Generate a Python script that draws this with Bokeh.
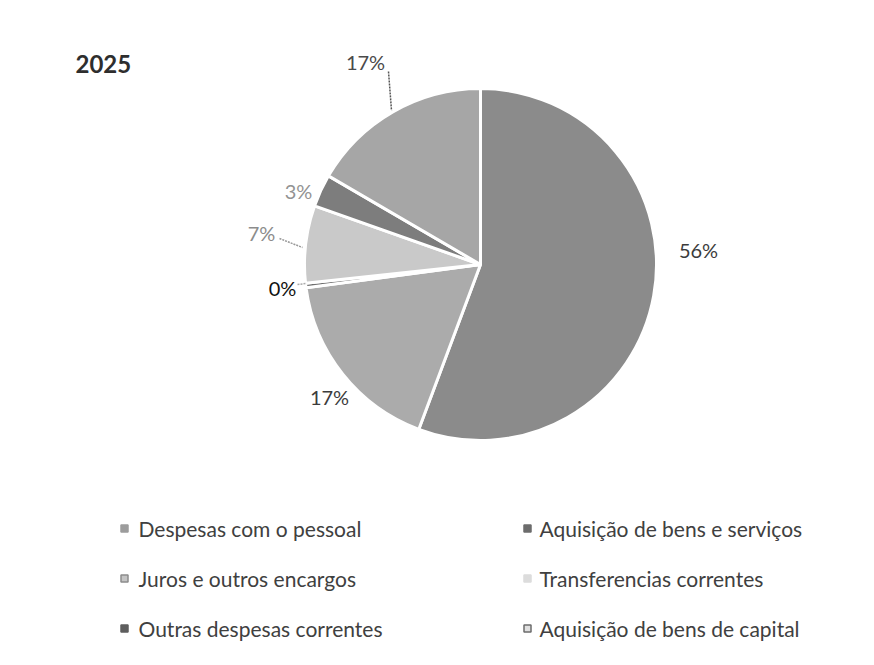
import math
from bokeh.plotting import figure
from bokeh.models import ColumnDataSource, Range1d
from bokeh.core.properties import value
from bokeh.embed import file_html
from bokeh.resources import INLINE

# ---- data ----
title = "2025"
categories = ["Despesas com o pessoal", "Aquisição de bens e serviços", "Juros e outros encargos",
              "Transferencias correntes", "Outras despesas correntes", "Aquisição de bens de capital"]
shares = [55.7, 17.2, 0.4, 7.1, 3.0, 16.6]
slice_colors = ["#8b8b8b", "#ababab", "#6e6e6e", "#c9c9c9", "#7d7d7d", "#a6a6a6"]
legend_fill = ["#9c9c9c", "#6c6c6c", "#c4c4c4", "#dcdcdc", "#5e5e5e", "#e0e0e0"]
legend_line = ["#9c9c9c", "#6c6c6c", "#8c8c8c", "#dcdcdc", "#5e5e5e", "#6c6c6c"]
label_colors = ["#3c3c3c", "#3c3c3c", "#111111", "#8c8c8c", "#939393", "#4a4a4a"]

W, H = 858, 649
p = figure(width=W, height=H, output_backend="svg", toolbar_location=None,
           x_range=Range1d(0, W), y_range=Range1d(0, H), min_border=0)
p.axis.visible = False
p.grid.visible = False
p.outline_line_color = None
p.background_fill_color = "white"


def Y(y_img):
    return H - y_img


FONT = "Lato"
cx, cy, R = 480, Y(264), 176

total = sum(shares)
starts, ends = [], []
cum = 0.0
for v in shares:
    starts.append(math.pi / 2 - 2 * math.pi * cum / total)
    cum += v
    ends.append(math.pi / 2 - 2 * math.pi * cum / total)

src = ColumnDataSource(dict(start=starts, end=ends, color=slice_colors))
p.wedge(x=cx, y=cy, radius=R, start_angle="start", end_angle="end", direction="clock",
        fill_color="color", line_color="white", line_width=3, source=src)

# data labels (layout positions)
label_pos = [(698, 249), (329, 396), (282, 287), (261, 232), (298, 190), (365, 61)]
labels = [f"{v:.0f}%" for v in shares]
p.text(x=[a for a, b in label_pos], y=[Y(b) for a, b in label_pos], text=labels,
       text_color=label_colors, text_font=value(FONT),
       text_font_size="20px", text_align="center", text_baseline="middle")

# leader lines
p.segment(x0=[388, 279, 297], y0=[Y(71), Y(238), Y(284)],
          x1=[391, 302, 306], y1=[Y(110), Y(247), Y(283)],
          line_color=["#555555", "#999999", "#aaaaaa"], line_width=1.5, line_dash="2 1")

# title
p.text(x=[75], y=[Y(63)], text=[title], text_font=value(FONT), text_font_style="bold",
       text_font_size="24px", text_color="#2e2e2e", text_baseline="middle")

# legend
col_sq = [124, 527]
col_tx = [138, 539]
row_y = [528, 578, 628]
mx, my, tx = [], [], []
for i in range(len(categories)):
    c, r = i % 2, i // 2
    mx.append(col_sq[c])
    my.append(Y(row_y[r]))
    tx.append(col_tx[c])
p.scatter(x=mx, y=my, marker="square", size=7, fill_color=legend_fill, line_color=legend_line,
          line_width=1.5)
p.text(x=tx, y=my, text=categories, text_font=value(FONT), text_font_size="21px",
       text_color="#404040", text_baseline="middle")

open("out.html", "w").write(file_html(p, INLINE))
